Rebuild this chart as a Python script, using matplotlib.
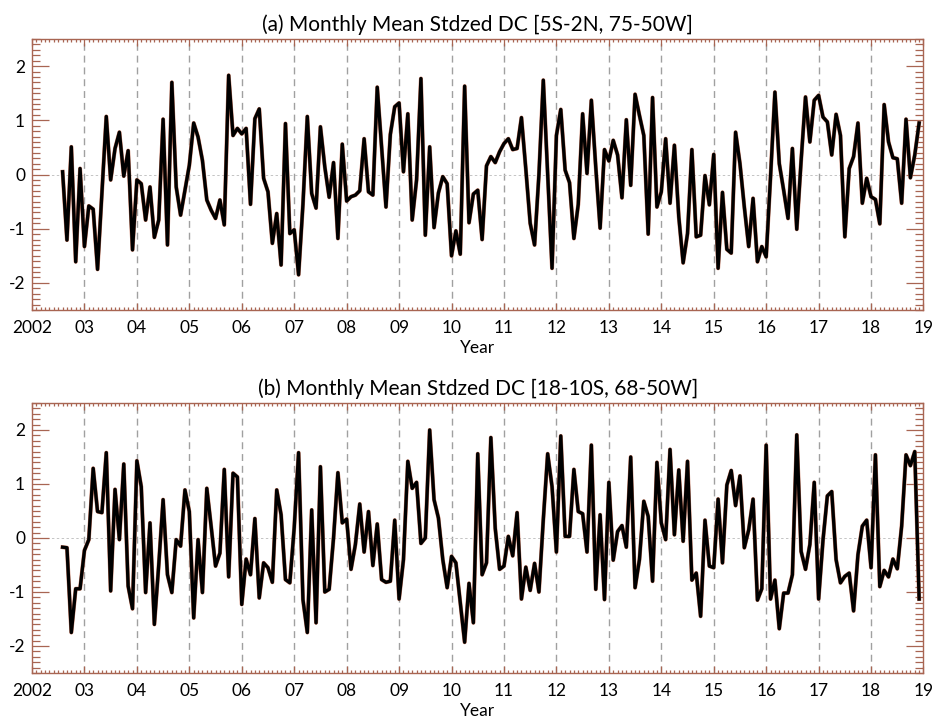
import matplotlib
matplotlib.use("Agg")
import matplotlib.pyplot as plt
from matplotlib.ticker import MultipleLocator, FixedLocator
import numpy as np

plt.rcParams["font.family"] = ["Lato", "DejaVu Sans"]
plt.rcParams["axes.unicode_minus"] = False

# first month of both series: August 2002, monthly through December 2018
FIRST_YEAR = 2002
FIRST_MONTH = 8

# (a) standardized DC, 5S-2N / 75-50W
dc_north = [
    0.05, -1.21, 0.51, -1.61, 0.11,
    -1.33, -0.58, -0.64, -1.75, -0.35, 1.07, -0.10, 0.48, 0.78, -0.03, 0.44, -1.39,
    -0.10, -0.17, -0.84, -0.23, -1.16, -0.84, 1.02, -1.30, 1.70, -0.23, -0.75, -0.29,
    0.17, 0.95, 0.69, 0.26, -0.47, -0.66, -0.81, -0.47, -0.93, 1.83, 0.72, 0.85,
    0.75, 0.85, -0.55, 1.03, 1.21, -0.07, -0.32, -1.27, -0.72, -1.67, 0.94, -1.09,
    -1.02, -1.85, -0.55, 1.07, -0.35, -0.62, 0.88, 0.14, -0.42, 0.22, -1.18, 0.56,
    -0.49, -0.41, -0.38, -0.30, 0.66, -0.32, -0.38, 1.61, 0.50, -0.60, 0.74, 1.25,
    1.32, 0.05, 1.12, -0.84, -0.10, 1.77, -1.12, 0.51, -0.98, -0.34, -0.04, -0.17,
    -1.50, -1.04, -1.47, 1.63, -0.89, -0.36, -0.29, -1.20, 0.16, 0.33, 0.22, 0.42,
    0.57, 0.66, 0.46, 0.48, 1.05, 0.10, -0.90, -1.30, 0.00, 1.74, 0.00, -1.73,
    0.72, 1.20, 0.08, -0.15, -1.18, -0.55, 1.12, 0.02, 1.37, 0.14, -0.99, 0.46,
    0.25, 0.63, 0.36, -0.43, 1.01, -0.20, 1.48, 1.09, 0.72, -1.10, 1.42, -0.60,
    -0.32, 0.66, -0.53, 0.54, -0.78, -1.63, -1.09, 0.46, -1.15, -1.12, -0.02, -0.56,
    0.37, -1.73, -0.33, -1.38, -1.45, 0.78, 0.20, -0.60, -1.33, -0.44, -1.61, -1.33,
    -1.52, -0.04, 1.52, 0.20, -0.29, -0.81, 0.48, -1.01, 0.26, 1.43, 0.60, 1.37,
    1.46, 1.06, 0.97, 0.36, 1.11, 0.72, -1.15, 0.11, 0.33, 0.95, -0.53, -0.07,
    -0.41, -0.46, -0.91, 1.29, 0.60, 0.31, 0.29, -0.53, 1.02, -0.06, 0.36, 0.95,
]

# (b) standardized DC, 18-10S / 68-50W
dc_south = [
    -0.17, -0.18, -1.75, -0.94, -0.94,
    -0.23, -0.03, 1.29, 0.49, 0.47, 1.58, -0.98, 0.90, -0.03, 1.37, -0.89, -1.31,
    1.43, 0.95, -1.01, 0.28, -1.60, -0.50, 0.71, -0.68, -1.01, -0.03, -0.15, 0.89,
    0.49, -1.48, -0.03, -1.01, 0.92, 0.21, -0.52, -0.28, 1.27, -0.72, 1.20, 1.13,
    -1.23, -0.39, -0.68, 0.36, -1.11, -0.46, -0.55, -0.82, 0.89, 0.43, -0.77, -0.83,
    0.19, 1.58, -1.14, -1.75, 0.52, -1.57, 1.32, -1.00, -0.95, 0.00, 1.21, 0.28,
    0.35, -0.58, -0.12, 0.63, -0.26, 0.49, -0.51, 0.26, -0.77, -0.82, -0.80, 0.33,
    -1.13, -0.40, 1.42, 0.92, 1.03, -0.10, 0.00, 2.00, 0.71, 0.37, -0.40, -0.92,
    -0.34, -0.46, -1.20, -1.93, -0.84, -1.57, 1.56, -0.68, -0.46, 1.86, 0.18, -0.58,
    -0.52, 0.03, -0.33, 0.47, -1.13, -0.54, -0.97, -0.47, -1.00, 0.34, 1.56, 0.95,
    -0.26, 1.89, 0.03, 0.03, 1.27, 0.49, 0.45, -0.26, 1.72, -0.95, 0.43, -1.14,
    1.03, -0.41, 0.12, 0.23, -0.17, 1.50, -0.92, -0.40, 0.68, 0.40, -0.80, 1.40,
    0.28, -0.03, 1.64, 0.06, 1.26, -0.06, 1.42, -0.78, -0.65, -1.45, 0.33, -0.52,
    -0.55, 0.72, -0.46, 0.98, 1.25, 0.60, 1.15, -0.18, 0.15, 0.72, -1.15, -0.94,
    1.72, -1.13, -0.78, -1.68, -1.02, -1.02, -0.68, 1.91, -0.25, -0.58, -0.12, 1.03,
    -1.13, -0.04, 0.78, 0.86, -0.40, -0.83, -0.71, -0.65, -1.35, -0.31, 0.22, 0.33,
    -0.55, 1.54, -0.90, -0.60, -0.72, -0.39, -0.57, 0.22, 1.54, 1.34, 1.60, -1.13,
]

titles = [
    "(a) Monthly Mean Stdzed DC [5S-2N, 75-50W]",
    "(b) Monthly Mean Stdzed DC [18-10S, 68-50W]",
]
year_ticks = list(range(2002, 2020))
year_labels = ["2002"] + [f"{y % 100:02d}" for y in year_ticks[1:]]
y_ticks = [-2, -1, 0, 1, 2]

AXIS_COLOR = "#a86552"


def month_axis(n):
    return FIRST_YEAR + (FIRST_MONTH - 1 + np.arange(n)) / 12.0


def draw_panel(ax, values, title):
    t = month_axis(len(values))
    for yr in year_ticks[1:-1]:
        ax.axvline(yr, color="#a0a0a0", lw=1.0, ls=(0, (5, 3.5)), zorder=1)
    ax.axhline(0, color="#c4c4c4", lw=0.7, ls=(0, (2.5, 2.5)), zorder=1)
    ax.plot(t, values, color="#c87a62", lw=2.9, zorder=2)
    ax.plot(t, values, color="black", lw=2.4, zorder=3)

    ax.set_xlim(year_ticks[0], year_ticks[-1])
    ax.set_ylim(-2.5, 2.5)
    ax.xaxis.set_major_locator(FixedLocator(year_ticks))
    ax.set_xticklabels(year_labels)
    ax.xaxis.set_minor_locator(MultipleLocator(1 / 12))
    ax.yaxis.set_major_locator(FixedLocator(y_ticks))
    ax.yaxis.set_minor_locator(MultipleLocator(0.1))

    ax.tick_params(which="both", direction="in", top=True, right=True,
                   color=AXIS_COLOR, width=0.9, labelsize=12.5)
    ax.tick_params(axis="y", which="major", length=12, pad=5)
    ax.tick_params(axis="y", which="minor", length=5.5)
    ax.tick_params(axis="x", which="major", length=5, pad=7)
    ax.tick_params(axis="x", which="minor", length=2.5)
    for sp in ax.spines.values():
        sp.set_color(AXIS_COLOR)
        sp.set_linewidth(1.0)

    ax.set_title(title, fontsize=15, pad=6)
    ax.set_xlabel("Year", fontsize=12.5, labelpad=3)


fig = plt.figure(figsize=(9.36, 7.22), dpi=100)
ax_a = fig.add_axes([32 / 936, 1 - 310 / 722, 891.5 / 936, 271 / 722])
ax_b = fig.add_axes([32 / 936, 1 - 673 / 722, 891.5 / 936, 270 / 722])

draw_panel(ax_a, dc_north, titles[0])
draw_panel(ax_b, dc_south, titles[1])

fig.savefig("out.png", dpi=100)
